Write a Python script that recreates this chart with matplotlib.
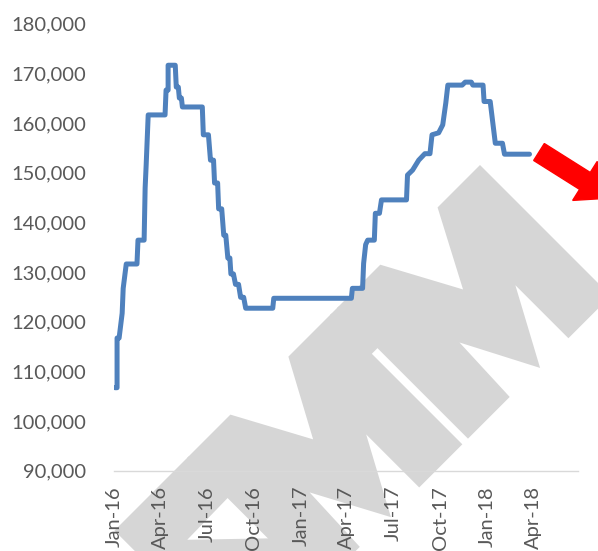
import matplotlib
matplotlib.use('Agg')
import matplotlib.pyplot as plt
import matplotlib.dates as mdates
import numpy as np
from matplotlib.patches import Polygon, FancyArrow
from matplotlib.ticker import StrMethodFormatter
from matplotlib.transforms import Affine2D

# Data (step series)
dates = [
    '2016-01-03', '2016-01-07', '2016-01-07', '2016-01-11', '2016-01-17', '2016-01-19',
    '2016-01-25', '2016-02-15', '2016-02-17', '2016-02-29', '2016-03-02', '2016-03-04',
    '2016-03-08', '2016-04-10', '2016-04-12', '2016-04-16', '2016-04-16', '2016-04-30',
    '2016-05-02', '2016-05-06', '2016-05-08', '2016-05-12', '2016-05-14', '2016-06-22',
    '2016-06-24', '2016-07-04', '2016-07-08', '2016-07-14', '2016-07-16', '2016-07-22',
    '2016-07-24', '2016-07-30', '2016-08-03', '2016-08-07', '2016-08-11', '2016-08-15',
    '2016-08-17', '2016-08-22', '2016-08-26', '2016-09-01', '2016-09-05', '2016-09-11',
    '2016-09-15', '2016-11-07', '2016-11-09', '2017-04-10', '2017-04-12', '2017-05-02',
    '2017-05-04', '2017-05-08', '2017-05-12', '2017-05-25', '2017-05-27', '2017-06-04',
    '2017-06-08', '2017-07-27', '2017-07-29', '2017-08-08', '2017-08-20', '2017-09-01',
    '2017-09-11', '2017-09-15', '2017-09-28', '2017-10-06', '2017-10-12', '2017-10-16',
    '2017-11-13', '2017-11-19', '2017-12-01', '2017-12-04', '2017-12-24', '2017-12-26',
    '2018-01-07', '2018-01-17', '2018-01-31', '2018-02-04', '2018-03-25',
]
values = [
    106700, 106700, 116700, 116700, 121700, 126700,
    131600, 131600, 136400, 136400, 146900, 151500,
    161600, 161600, 166600, 166600, 171600, 171600,
    167200, 167200, 165000, 165000, 163200, 163200,
    157600, 157600, 152500, 152500, 147900, 147900,
    142700, 142700, 137400, 137400, 132800, 132800,
    129600, 129600, 127500, 127500, 124900, 124900,
    122700, 122700, 124700, 124700, 126700, 126700,
    131700, 135500, 136400, 136400, 141800, 141800,
    144500, 144500, 149500, 150500, 152500, 153800,
    153800, 157600, 158000, 159600, 164000, 167600,
    167600, 168200, 168200, 167600, 167600, 164300,
    164300, 155900, 155900, 153700, 153700,
]

x_start, x_end = '2016-01-01', '2018-06-28'
y_ticks = list(range(90000, 180001, 10000))

# watermark outline in its own (left, down) frame, pixels
wm_right_m = [(0, 0), (60, 0), (100, 76), (141, 0), (202, 0), (202, 185), (143, 185),
              (140, 111), (101, 186), (60, 110), (60, 185), (0, 185)]
wm_bridge = [(200, 0), (212, 0), (212, 57), (200, 57)]
wm_left_m = [(210, 0), (271, 0), (312, 76), (353, 0), (414, 0), (414, 185), (355, 185),
             (352, 111), (312, 186), (271, 110), (271, 185), (210, 185)]
wm_tail = [(412, 0), (517, 0), (517, 300), (412, 300), (413, 115), (472, 58), (413, 57)]

fig = plt.figure(figsize=(5.98, 5.51), dpi=100)
ax = fig.add_axes([114 / 598, 1 - 470.7 / 551, 464 / 598, 447.2 / 551])
ax.set_zorder(1)
ax.patch.set_alpha(0)

x = np.array(dates, dtype='datetime64[D]')
ax.plot(x, values, color='#4F81BD', linewidth=3.6,
        solid_joinstyle='round', solid_capstyle='round')

ax.set_xlim(np.datetime64(x_start), np.datetime64(x_end))
ax.set_ylim(90000, 180000)
ax.set_yticks(y_ticks)
ax.yaxis.set_major_formatter(StrMethodFormatter('{x:,.0f}'))
ax.xaxis.set_major_locator(mdates.MonthLocator(bymonth=[1, 4, 7, 10]))
ax.xaxis.set_major_formatter(mdates.DateFormatter('%b-%y'))

for s in ['top', 'right', 'left']:
    ax.spines[s].set_visible(False)
ax.spines['bottom'].set_color('#d9d9d9')
ax.spines['bottom'].set_linewidth(1.0)
ax.tick_params(axis='both', length=0, colors='#595959', labelsize=14.5)
ax.tick_params(axis='y', pad=20)
ax.tick_params(axis='x', pad=11, labelrotation=90)
for lab in ax.get_xticklabels() + ax.get_yticklabels():
    lab.set_fontfamily('Lato')

# pixel coords (y down) -> figure
px = Affine2D().scale(1 / 100, -1 / 100).translate(0, 5.51) + fig.dpi_scale_trans
r = 1 / np.sqrt(2)
wm = Affine2D(np.array([[-r, r, 480], [r, r, 165], [0, 0, 1]])) + px
for shape in [wm_right_m, wm_bridge, wm_left_m, wm_tail]:
    fig.add_artist(Polygon(shape, closed=True, facecolor='#d6d6d6', edgecolor='none',
                           transform=wm, zorder=0))

fig.add_artist(FancyArrow(539, 152, 73, 46, width=20, head_width=46, head_length=32,
                          length_includes_head=True, color='#ff0000', transform=px, zorder=5))

plt.savefig('out.png', dpi=100)
